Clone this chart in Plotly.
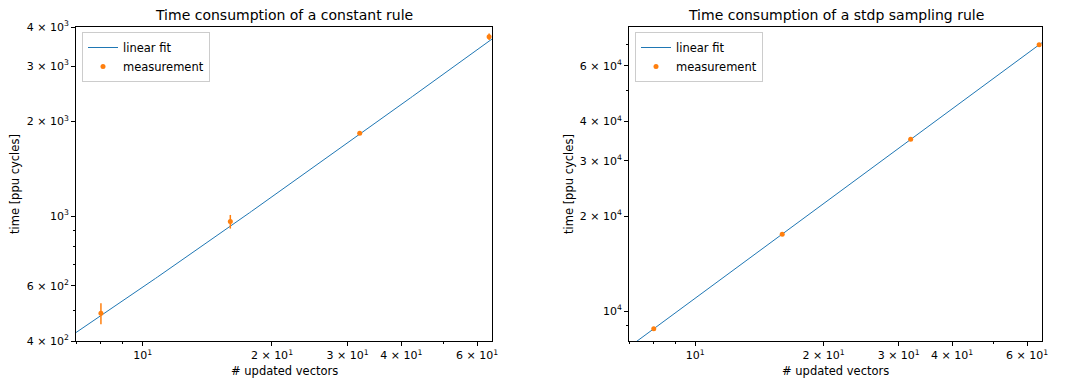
import numpy as np
import plotly.graph_objects as go

# ---- data ----
n_vectors = [8, 16, 32, 64]

const_time = [490, 960, 1835, 3724]
const_err = [38, 48, 15, 90]
const_fit_slope = 55.8
const_fit_intercept = 35.0

stdp_time = [8790, 17520, 35080, 70030]
stdp_err = [60, 100, 150, 250]
stdp_fit_slope = 1093.0
stdp_fit_intercept = 39.0

x_limits = [7, 65]
const_ylim = [400, 4000]
stdp_ylim = [8035, 79700]

x_tickvals = [10, 20, 30, 40, 60]
x_ticktext = ["10<sup>1</sup>", "2 × 10<sup>1</sup>", "3 × 10<sup>1</sup>", "4 × 10<sup>1</sup>", "6 × 10<sup>1</sup>"]
x_minor = [7, 8, 9, 50]

const_tickvals = [400, 600, 1000, 2000, 3000, 4000]
const_ticktext = ["4 × 10<sup>2</sup>", "6 × 10<sup>2</sup>", "10<sup>3</sup>", "2 × 10<sup>3</sup>", "3 × 10<sup>3</sup>", "4 × 10<sup>3</sup>"]
const_minor = [500, 700, 800, 900]

stdp_tickvals = [10000, 20000, 30000, 40000, 60000]
stdp_ticktext = ["10<sup>4</sup>", "2 × 10<sup>4</sup>", "3 × 10<sup>4</sup>", "4 × 10<sup>4</sup>", "6 × 10<sup>4</sup>"]
stdp_minor = [9000, 50000, 70000]

titles = ["Time consumption of a constant rule", "Time consumption of a stdp sampling rule"]
x_label = "# updated vectors"
y_label = "time [ppu cycles]"

BLUE = "#1f77b4"
ORANGE = "#ff7f0e"
FONT = "DejaVu Sans"

W, H = 1065, 380
fig = go.Figure()

xfit = np.geomspace(x_limits[0], x_limits[1], 200)

panels = [
    dict(xa="x", ya="y", time=const_time, err=const_err, a=const_fit_slope, b=const_fit_intercept, legend="legend"),
    dict(xa="x2", ya="y2", time=stdp_time, err=stdp_err, a=stdp_fit_slope, b=stdp_fit_intercept, legend="legend2"),
]
for p in panels:
    fig.add_trace(go.Scatter(
        x=xfit, y=p["a"] * xfit + p["b"], mode="lines", name="linear fit",
        line=dict(color=BLUE, width=1), xaxis=p["xa"], yaxis=p["ya"], legend=p["legend"],
    ))
    fig.add_trace(go.Scatter(
        x=n_vectors, y=p["time"], mode="markers", name="measurement",
        marker=dict(color=ORANGE, size=5),
        error_y=dict(type="data", array=p["err"], color=ORANGE, thickness=1.5, width=0),
        xaxis=p["xa"], yaxis=p["ya"], legend=p["legend"],
    ))

def px_x(v):
    return v / W

def px_y(v):
    return 1 - v / H

axis_common = dict(
    type="log", showgrid=False, zeroline=False, showline=True, linecolor="black", linewidth=1,
    mirror=True, ticks="outside", ticklen=4, tickwidth=1, tickcolor="black", automargin=False,
    tickfont=dict(family=FONT, size=11, color="black"),
)

xdom1 = [px_x(76), px_x(492)]
xdom2 = [px_x(629), px_x(1042)]
ydom = [px_y(341), px_y(27)]

xr = [np.log10(x_limits[0]), np.log10(x_limits[1])]
fig.update_layout(
    xaxis=dict(domain=xdom1, range=xr, tickmode="array", tickvals=x_tickvals, ticktext=x_ticktext,
               minor=dict(tickmode="array", tickvals=x_minor, ticks="outside", ticklen=2, tickcolor="black"),
               anchor="y", **axis_common),
    yaxis=dict(domain=ydom, range=[np.log10(const_ylim[0]), np.log10(const_ylim[1])], tickmode="array",
               tickvals=const_tickvals, ticktext=const_ticktext,
               minor=dict(tickmode="array", tickvals=const_minor, ticks="outside", ticklen=2, tickcolor="black"),
               anchor="x", **axis_common),
    xaxis2=dict(domain=xdom2, range=xr, tickmode="array", tickvals=x_tickvals, ticktext=x_ticktext,
                minor=dict(tickmode="array", tickvals=x_minor, ticks="outside", ticklen=2, tickcolor="black"),
                anchor="y2", **axis_common),
    yaxis2=dict(domain=ydom, range=[np.log10(stdp_ylim[0]), np.log10(stdp_ylim[1])], tickmode="array",
                tickvals=stdp_tickvals, ticktext=stdp_ticktext,
                minor=dict(tickmode="array", tickvals=stdp_minor, ticks="outside", ticklen=2, tickcolor="black"),
                anchor="x2", **axis_common),
)

legend_style = dict(
    xanchor="left", yanchor="top", bgcolor="rgba(255,255,255,0.8)", bordercolor="#cccccc", borderwidth=1,
    font=dict(family=FONT, size=11.5, color="black"), tracegroupgap=0, itemwidth=30,
)
fig.update_layout(
    legend=dict(x=px_x(82), y=px_y(32), **legend_style),
    legend2=dict(x=px_x(635), y=px_y(32), **legend_style),
)

annotations = []
centers = [(76 + 492) / 2, (629 + 1042) / 2]
ylab_x = [15, 569]
for i in range(2):
    annotations.append(dict(text=titles[i], x=px_x(centers[i]), y=px_y(15), xref="paper", yref="paper",
                            showarrow=False, xanchor="center", yanchor="middle",
                            font=dict(family=FONT, size=14, color="black")))
    annotations.append(dict(text=x_label, x=px_x(centers[i]), y=px_y(371), xref="paper", yref="paper",
                            showarrow=False, xanchor="center", yanchor="middle",
                            font=dict(family=FONT, size=11.5, color="black")))
    annotations.append(dict(text=y_label, x=px_x(ylab_x[i]), y=px_y(184), xref="paper", yref="paper",
                            showarrow=False, xanchor="center", yanchor="middle", textangle=-90,
                            font=dict(family=FONT, size=11.5, color="black")))

fig.update_layout(
    annotations=annotations,
    width=W, height=H, margin=dict(l=0, r=0, t=0, b=0),
    plot_bgcolor="white", paper_bgcolor="white",
    font=dict(family=FONT, size=11, color="black"),
)

fig.write_html("out.html", config={"displayModeBar": False},
               post_script="document.body.style.margin='0';document.body.style.overflow='hidden';")
